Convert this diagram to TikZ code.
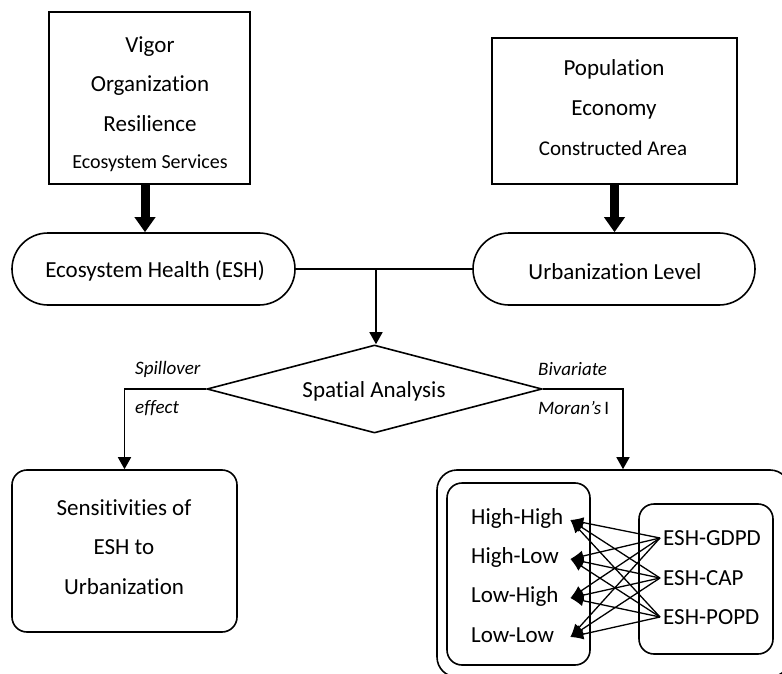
\documentclass[tikz,border=0pt]{standalone}
\usepackage{fontspec}
\setmainfont{Carlito}[Ligatures={NoCommon}]
\usetikzlibrary{shapes.misc,shapes.geometric,arrows.meta,positioning}
\tikzset{
  ln/.style={line width=1.6pt},
  boxsq/.style={draw, ln, rectangle, inner sep=0pt},
  boxrd/.style={draw, ln, rectangle, rounded corners=15pt, inner sep=0pt},
  stadium/.style={draw, ln, rounded rectangle, inner sep=0pt, minimum height=72pt},
  txt/.style={font=\fontsize{23}{39.5}\selectfont, inner sep=3pt},
  smalltxt/.style={font=\fontsize{20}{20}\selectfont, inner sep=0pt},
  lab/.style={font=\fontsize{19}{19}\selectfont\itshape, inner sep=0pt, anchor=west},
  fat/.style={line width=9pt, -{Triangle[length=15pt,width=20pt]}},
  arr/.style={ln, -{Triangle[length=12pt,width=13pt]}},
  link/.style={line width=1.3pt, -{Latex[length=13pt,width=11pt]}}
}
\begin{document}
\begin{tikzpicture}[x=1pt,y=-1pt]
\useasboundingbox (0,0) rectangle (782,674);
\clip (0,0) rectangle (782,674);
% top boxes
\node[boxsq, minimum width=201pt, minimum height=172pt] (vigor) at (149.5,98) {};
\node[txt, align=center] at (150,84) {Vigor\\Organization\\Resilience};
\node[smalltxt] at (150,163) {Ecosystem Services};
\node[boxsq, minimum width=245pt, minimum height=146pt] (pop) at (614.5,111) {};
\node[txt, align=center] at (614,89.5) {Population\\Economy};
\node[font=\fontsize{21}{21}\selectfont, inner sep=0pt] at (613,148) {Constructed Area};
% stadiums
\node[stadium, minimum width=283pt] (esh) at (153.5,269) {};
\node[txt] at (155,271) {Ecosystem Health (ESH)};
\node[stadium, minimum width=282pt] (urb) at (614,269) {};
\node[txt] at (615,272) {Urbanization Level};
% thick arrows
\draw[fat] ([xshift=-4.5pt]vigor.south) -- ([xshift=-4.5pt]vigor.south |- esh.north);
\draw[fat] (pop.south) -- (pop.south |- urb.north);
% diamond
\node[draw, ln, diamond, aspect=3.8, inner sep=0pt, minimum width=335pt, minimum height=88pt] (dia) at (374.5,389) {};
\node[txt] at (374,391) {Spatial Analysis};
% junction
\coordinate (j) at (376,269);
\draw[ln] (esh.east) -- (urb.west);
\draw[arr] (j) -- (j |- dia.north);
% bottom boxes
\node[boxrd, minimum width=225pt, minimum height=162pt] (sens) at (124.5,551) {};
\node[txt, align=center] at (124,547) {Sensitivities of\\ESH to\\Urbanization};
\node[boxrd, rounded corners=20pt, minimum width=353pt, minimum height=207pt] (outer) at (613.5,573.5) {};
\node[boxrd, minimum width=143pt, minimum height=182pt] (inl) at (518.5,574) {};
\node[boxrd, minimum width=134pt, minimum height=150pt] (inr) at (706,579) {};
% branches
\draw[arr] (dia.west) -| (sens.north);
\draw[arr] (dia.east) -| ([xshift=9.5pt]outer.north);
\node[lab] at (135,369) {Spillover};
\node[lab] at (135,408) {effect};
\node[lab] at (538,369) {Bivariate};
\node[lab] at (538,408) {Moran’s\,\upshape I};
% items
\node[txt, anchor=west, text width=96pt, align=left] (hh) at (468,518) {High-High};
\node[txt, anchor=west, text width=96pt, align=left] (hl) at (468,557) {High-Low};
\node[txt, anchor=west, text width=96pt, align=left] (lh) at (468,596) {Low-High};
\node[txt, anchor=west, text width=96pt, align=left] (ll) at (468,635) {Low-Low};
\node[txt, anchor=west] (gd) at (660,538) {ESH-GDPD};
\node[txt, anchor=west] (cap) at (660,578) {ESH-CAP};
\node[txt, anchor=west] (po) at (660,617) {ESH-POPD};
\foreach \s in {gd,cap,po}{
  \foreach \t in {hh,hl,lh,ll}{
    \draw[link] (\s.west) -- ([yshift=-2pt]\t.east);
  }
}
\end{tikzpicture}
\end{document}
